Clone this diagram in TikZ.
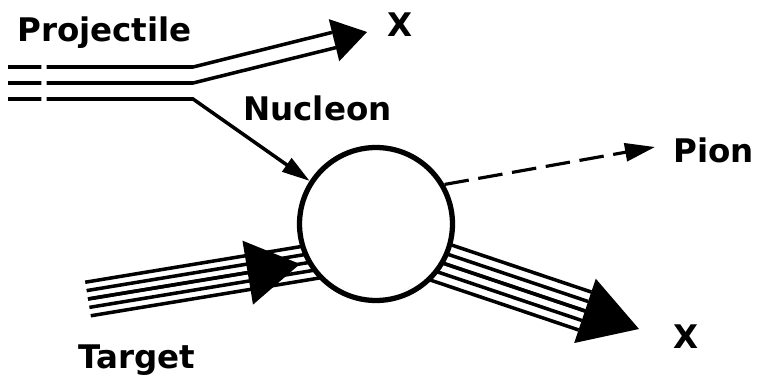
\documentclass[tikz,border=0pt]{standalone}
\usepackage{fontspec}
\setmainfont{DejaVu Sans}
\usetikzlibrary{arrows.meta,calc}

\begin{document}
\begin{tikzpicture}[x=0.02cm,y=-0.02cm,
  beam/.style={line width=2pt},
  lbl/.style={font=\fontsize{18.5}{20}\selectfont\bfseries,inner sep=0pt,anchor=base west},
  nucleon/.style={circle,draw,line width=3pt,fill=white,minimum size=3.06cm,inner sep=0pt},
  gap/.style={dash pattern=on 19pt off 3pt on 400pt},
  pion/.style={line width=1.8pt,dash pattern=on 14pt off 5.5pt,-{Triangle[length=0.6cm,width=0.36cm]}}
]
\useasboundingbox (0,0) rectangle (767,385);
% Target beam
\coordinate (ts) at (88,299);
\coordinate (te) at (330,259);
\coordinate (ttip) at (300,264);
\foreach \k in {-2,...,2}
  \draw[beam] ($(ts)!\k*0.17cm!90:(te)$) -- ($(te)!\k*0.17cm!-90:(ts)$);
\draw[beam,-{Triangle[length=1.06cm,width=1.28cm]}] (ts) -- (ttip);
% Outgoing beam
\coordinate (oc) at (380,242);
\coordinate (ob) at (585,311);
\coordinate (otip) at (639,329);
\foreach \k in {-2,...,2}
  \draw[beam] ($(oc)!\k*0.2cm!90:(ob)$) -- ($(ob)!\k*0.2cm!-90:(oc)$);
\draw[beam,-{Triangle[length=1.14cm,width=1.34cm]}] (oc) -- (otip);
% Nucleon
\node[nucleon] (nuc) at (376,224) {};
% Projectile beam
\coordinate (p1) at (8,67);
\coordinate (p2) at (8,83);
\coordinate (p3) at (8,99);
\coordinate (b1) at (193,67);
\coordinate (b2) at (193,83);
\coordinate (b3) at (193,99);
\coordinate (e1) at (332,32.4);
\coordinate (e2) at (336,47.6);
\coordinate (xbase) at (334,40.2);
\coordinate (xtip) at (367,32);
\draw[beam,gap] (p1) -- (b1) -- (e1);
\draw[beam,gap] (p2) -- (b2) -- (e2);
\draw[-{Triangle[length=0.68cm,width=0.86cm]},line width=1pt] (xbase) -- (xtip);
\draw[beam,gap,-{Triangle[length=0.56cm,width=0.32cm]}] (p3) -- (b3) -- (nuc.147);
% Pion
\coordinate (ptip) at (655,147);
\draw[pion] (nuc.30) -- (ptip);
% Labels
\node[lbl] (proj) at (17,42) {Projectile};
\node[lbl] (xtop) at (387,37) {X};
\node[lbl] (nlab) at (243,120) {Nucleon};
\node[lbl] (plab) at (673,162) {Pion};
\node[lbl] (tlab) at (78,368) {Target};
\node[lbl] (xbot) at (673,348) {X};
\end{tikzpicture}
\end{document}
